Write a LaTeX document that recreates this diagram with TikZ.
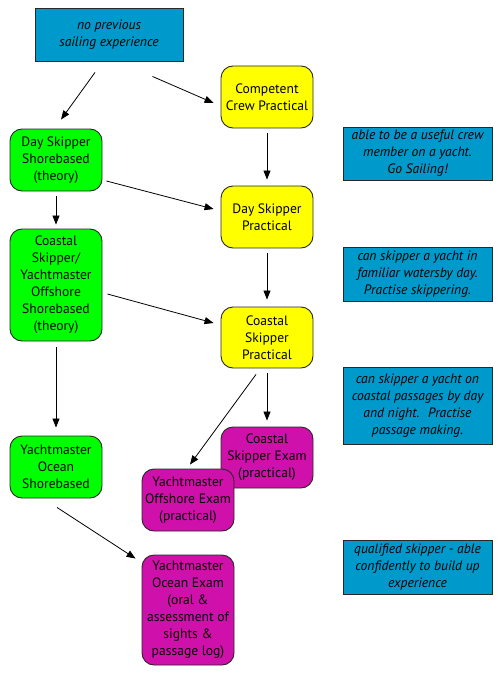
\documentclass[tikz,border=0pt]{standalone}
\usepackage{fontspec}
\setmainfont{PT Sans}
\usetikzlibrary{arrows.meta,calc}
\definecolor{noteblue}{RGB}{0,153,204}
\definecolor{boxgreen}{RGB}{0,255,0}
\definecolor{boxyellow}{RGB}{255,255,0}
\definecolor{boxmag}{RGB}{208,16,170}
\definecolor{edge}{RGB}{40,40,40}
\begin{document}
\begin{tikzpicture}[x=1pt,y=-1pt,
  base/.style={draw=edge,line width=0.9pt,align=center,inner sep=1pt,
    font=\fontsize{13.6}{17}\selectfont},
  course/.style={base,rounded corners=12pt,minimum width=92pt},
  greenbox/.style={course,fill=boxgreen},
  yellowbox/.style={course,fill=boxyellow},
  magbox/.style={course,fill=boxmag},
  note/.style={base,fill=noteblue,minimum width=149pt,font=\fontsize{13.6}{17}\selectfont\itshape},
  arr/.style={-{Triangle[length=9pt,width=7pt]},line width=0.8pt}]
\useasboundingbox (0,0) rectangle (500,674);
\node[note,minimum width=148pt,minimum height=53pt] (top) at (109,34.5) {no previous\\sailing experience};
\node[yellowbox,minimum height=62pt] (cc) at (267,97) {Competent\\Crew Practical};
\node[greenbox,minimum height=62pt] (dss) at (56,160) {Day Skipper\\Shorebased\\(theory)};
\node[note,minimum height=53pt] (n1) at (417.5,153.5) {able to be a useful crew\\member on a yacht.\\Go Sailing!};
\node[yellowbox,minimum height=62pt] (dsp) at (267,217) {Day Skipper\\Practical};
\node[greenbox,minimum height=112pt] (css) at (56,285) {Coastal\\Skipper/\\Yachtmaster\\Offshore\\Shorebased\\(theory)};
\node[note,minimum height=54pt] (n2) at (417.5,274) {can skipper a yacht in\\familiar watersby day.\\Practise skippering.};
\node[yellowbox,minimum height=61pt] (csp) at (267,337.5) {Coastal\\Skipper\\Practical};
\node[note,minimum height=77pt] (n3) at (417.5,405.5) {can skipper a yacht on\\coastal passages by day\\and night.~ Practise\\passage making.};
\node[magbox,minimum height=61pt] (cse) at (267,457.5) {Coastal\\Skipper Exam\\(practical)};
\node[magbox,minimum height=62pt] (ymoe) at (188,500) {Yachtmaster\\Offshore Exam\\(practical)};
\node[greenbox,minimum height=62pt] (ymos) at (56,467) {Yachtmaster\\Ocean\\Shorebased};
\node[magbox,minimum height=110pt] (ymoce) at (188,610) {Yachtmaster\\Ocean Exam\\(oral \&\\assessment of\\sights \&\\passage log)};
\node[note,minimum height=54pt] (n4) at (417.5,567) {qualified skipper - able\\confidently to build up\\experience};
\draw[arr] ($(top.south)+(-14,11)$) -- ($(dss.north)+(5,-9)$);
\draw[arr] ($(top.south east)+(-31,15)$) -- ($(cc.west)+(-7,6)$);
\draw[arr] ($(cc.south)+(0,5)$) -- ($(dsp.north)+(0,-6)$);
\draw[arr] ($(dss.east)+(4,21)$) -- ($(dsp.west)+(-7,-8)$);
\draw[arr] ($(dss.south)+(0,5)$) -- ($(css.north)+(0,-4)$);
\draw[arr] ($(dsp.south)+(0,5)$) -- ($(csp.north)+(0,-7)$);
\draw[arr] ($(css.east)+(5,9)$) -- ($(csp.west)+(-7,-14.5)$);
\draw[arr] ($(csp.south)+(0,5)$) -- ($(cse.north)+(0,-6)$);
\draw[arr] ($(csp.south)+(-11,6)$) -- ($(ymoe.north)+(2,-4)$);
\draw[arr] ($(css.south)+(0,6)$) -- ($(ymos.north)+(0,-8)$);
\draw[arr] ($(ymos.south)+(1,9)$) -- ($(ymoce.north west)+(-6,4)$);
\end{tikzpicture}
\end{document}
